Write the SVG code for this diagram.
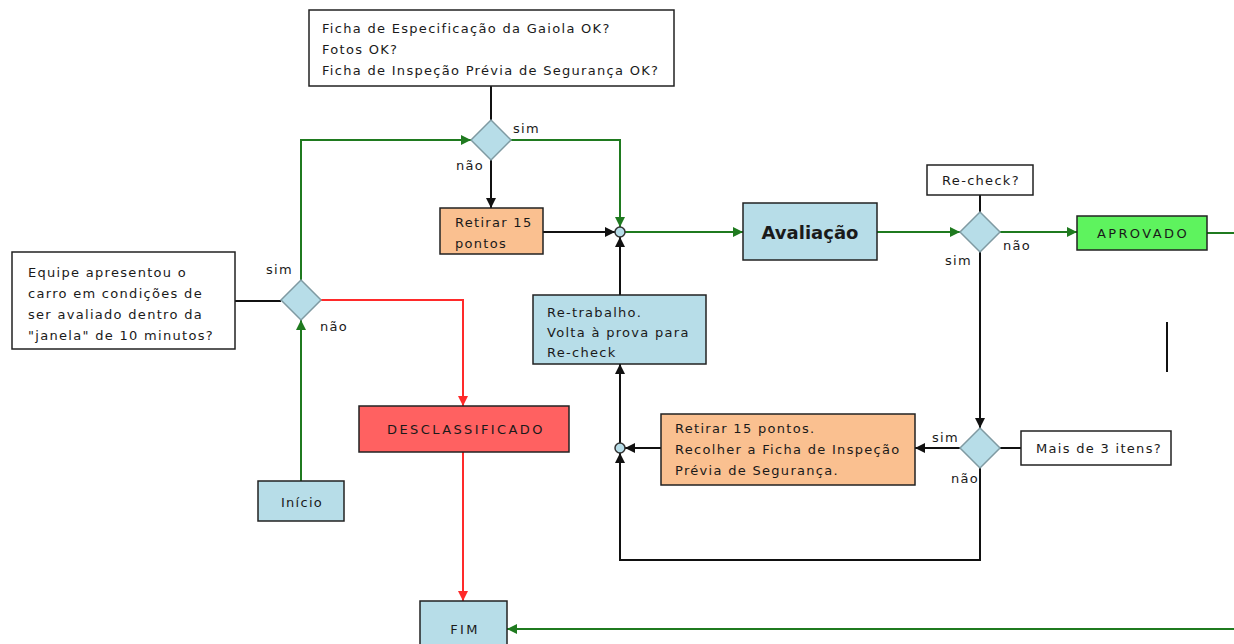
<svg xmlns="http://www.w3.org/2000/svg" width="1234" height="644" viewBox="0 0 1234 644">
<defs>
<marker id="ab" viewBox="0 0 10 10" refX="10" refY="5" markerWidth="10" markerHeight="10" markerUnits="userSpaceOnUse" orient="auto"><path d="M0,0 L10,5 L0,10 z" fill="#111"/></marker>
<marker id="ag" viewBox="0 0 10 10" refX="10" refY="5" markerWidth="10" markerHeight="10" markerUnits="userSpaceOnUse" orient="auto"><path d="M0,0 L10,5 L0,10 z" fill="#1f7a1f"/></marker>
<marker id="ar" viewBox="0 0 10 10" refX="10" refY="5" markerWidth="10" markerHeight="10" markerUnits="userSpaceOnUse" orient="auto"><path d="M0,0 L10,5 L0,10 z" fill="#ff2a2a"/></marker>
</defs>
<style>
text{font-family:"DejaVu Sans","Liberation Sans",sans-serif;font-size:13px;letter-spacing:1.3px;fill:#1a1a1a}
.box{stroke:#222;stroke-width:1.5}
.w{fill:#fff}
.b{fill:#b7dde8}
.o{fill:#fac090}
.dia{fill:#b7dde8;stroke:#7f9aa2;stroke-width:1.5}
.k{stroke:#111;stroke-width:2;fill:none}
.g{stroke:#1f7a1f;stroke-width:2;fill:none}
.r{stroke:#ff2a2a;stroke-width:2;fill:none}
.c{text-anchor:middle}
.caps{letter-spacing:2.4px}
</style>
<rect width="1234" height="644" fill="#fff"/>
<g id="connectors">
<path class="k" d="M491,86 V120"/>
<path class="k" d="M235,301 H281"/>
<path class="k" d="M980,195 V212"/>
<path class="k" d="M1000,448 H1021"/>
<path class="g" d="M301,285 V140 H471" marker-end="url(#ag)"/>
<path class="g" d="M511,140 H620 V227" marker-end="url(#ag)"/>
<path class="k" d="M491,160 V208" marker-end="url(#ab)"/>
<path class="k" d="M543,232 H615" marker-end="url(#ab)"/>
<path class="g" d="M625,232 H743" marker-end="url(#ag)"/>
<path class="g" d="M877,232 H960" marker-end="url(#ag)"/>
<path class="g" d="M1000,232 H1077" marker-end="url(#ag)"/>
<path class="g" d="M1207,233 H1234"/>
<path class="k" d="M980,252 V428" marker-end="url(#ab)"/>
<path class="k" d="M960,448 H915" marker-end="url(#ab)"/>
<path class="k" d="M661,448 H625" marker-end="url(#ab)"/>
<path class="k" d="M980,468 V560 H620 V453" marker-end="url(#ab)"/>
<path class="k" d="M620,443 V364" marker-end="url(#ab)"/>
<path class="k" d="M620,295 V237" marker-end="url(#ab)"/>
<path class="r" d="M321,300 H463 V406" marker-end="url(#ar)"/>
<path class="r" d="M463,452 V601" marker-end="url(#ar)"/>
<path class="g" d="M1234,629 H507" marker-end="url(#ag)"/>
<path class="g" d="M301,481 V320" marker-end="url(#ag)"/>
<path d="M1167,322 V372" stroke="#111" stroke-width="2"/>
</g>
<g id="q-top">
<rect class="box w" x="309" y="10" width="365" height="76"/>
<text x="322" y="33">Ficha de Especificação da Gaiola OK?</text>
<text x="322" y="54">Fotos OK?</text>
<text x="322" y="75">Ficha de Inspeção Prévia de Segurança OK?</text>
</g>
<g id="d1">
<path class="dia" d="M491,120 L511,140 L491,160 L471,140 z"/>
<text x="513" y="133">sim</text>
<text x="456" y="170">não</text>
</g>
<g id="retirar1">
<rect class="box o" x="440" y="208" width="103" height="46"/>
<text x="455" y="227">Retirar 15</text>
<text x="455" y="248">pontos</text>
</g>
<g id="j1"><circle cx="620" cy="232" r="5" fill="#b7dde8" stroke="#333" stroke-width="1.5"/></g>
<g id="avaliacao">
<rect class="box b" x="743" y="203" width="134" height="57"/>
<text x="810" y="239" class="c" style="font-size:18px;font-weight:bold;letter-spacing:0">Avaliação</text>
</g>
<g id="recheck-q">
<rect class="box w" x="927" y="165" width="106" height="30"/>
<text x="981" y="185" class="c">Re-check?</text>
</g>
<g id="d3">
<path class="dia" d="M980,212 L1000,232 L980,252 L960,232 z"/>
<text x="945" y="265">sim</text>
<text x="1003" y="250">não</text>
</g>
<g id="aprovado">
<rect class="box" x="1077" y="216" width="130" height="34" fill="#5ef35e"/>
<text x="1143" y="238" class="c caps">APROVADO</text>
</g>
<g id="d4">
<path class="dia" d="M980,428 L1000,448 L980,468 L960,448 z"/>
<text x="932" y="442">sim</text>
<text x="951" y="483">não</text>
</g>
<g id="mais3">
<rect class="box w" x="1021" y="431" width="150" height="34"/>
<text x="1036" y="453">Mais de 3 itens?</text>
</g>
<g id="retirar2">
<rect class="box o" x="661" y="414" width="254" height="71"/>
<text x="675" y="433">Retirar 15 pontos.</text>
<text x="675" y="454">Recolher a Ficha de Inspeção</text>
<text x="675" y="475">Prévia de Segurança.</text>
</g>
<g id="j2"><circle cx="620" cy="448" r="5" fill="#b7dde8" stroke="#333" stroke-width="1.5"/></g>
<g id="retrabalho">
<rect class="box b" x="533" y="295" width="173" height="69"/>
<text x="547" y="317">Re-trabalho.</text>
<text x="547" y="337">Volta à prova para</text>
<text x="547" y="357">Re-check</text>
</g>
<g id="q-equipe">
<rect class="box w" x="12" y="252" width="223" height="97"/>
<text x="28" y="277">Equipe apresentou o</text>
<text x="28" y="298">carro em condições de</text>
<text x="28" y="319">ser avaliado dentro da</text>
<text x="28" y="340">"janela" de 10 minutos?</text>
</g>
<g id="d2">
<path class="dia" d="M301,280 L321,300 L301,320 L281,300 z"/>
<text x="266" y="274">sim</text>
<text x="320" y="331">não</text>
</g>
<g id="desclassificado">
<rect class="box" x="359" y="406" width="210" height="46" fill="#ff6161"/>
<text x="466" y="434" class="c caps">DESCLASSIFICADO</text>
</g>
<g id="inicio">
<rect class="box b" x="258" y="481" width="86" height="40"/>
<text x="302" y="507" class="c">Início</text>
</g>
<g id="fim">
<rect class="box b" x="420" y="601" width="87" height="50"/>
<text x="465" y="634" class="c caps">FIM</text>
</g>
</svg>
